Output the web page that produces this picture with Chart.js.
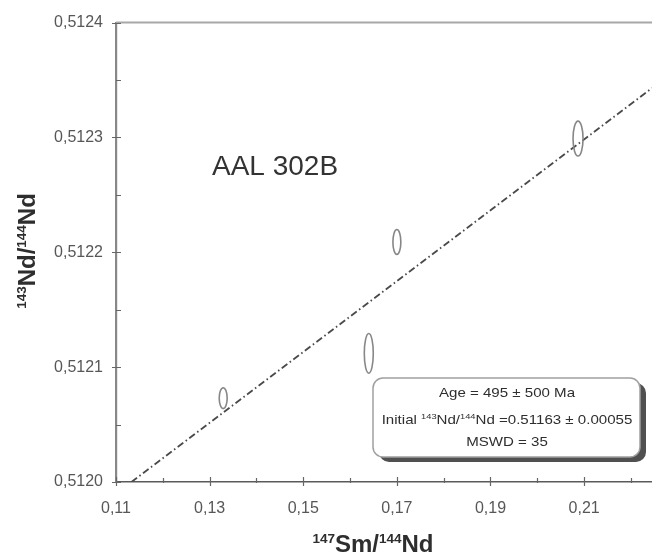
<!DOCTYPE html>
<html>
<head>
<meta charset="utf-8">
<script src="https://cdn.jsdelivr.net/npm/chart.js@4.4.1/dist/chart.umd.min.js"></script>
<style>
  html, body { margin: 0; padding: 0; background: #ffffff; }
  canvas { display: block; }
</style>
</head>
<body>
<canvas id="isochron" width="652" height="554"></canvas>
<script>
// Sm–Nd whole-rock isochron, sample AAL 302B

// Analysed points: 147Sm/144Nd, 143Nd/144Nd and their 2σ half-widths
const sampleX    = [0.1329, 0.1640, 0.1700, 0.2087];
const sampleY    = [0.512073, 0.512112, 0.512209, 0.512299];
const sampleXErr = [0.00085, 0.00096, 0.00085, 0.00107];
const sampleYErr = [0.0000091, 0.0000173, 0.0000108, 0.0000152];

// Regression line end points
const isochronX = [0.1133, 0.2245];
const isochronY = [0.51200, 0.512343];

// Axis ticks (all marks) and the labelled ones
const xTicks = [0.11, 0.12, 0.13, 0.14, 0.15, 0.16, 0.17, 0.18, 0.19, 0.20, 0.21, 0.22];
const xLabelled = [0.11, 0.13, 0.15, 0.17, 0.19, 0.21];
const yTicks = [0.51200, 0.51205, 0.51210, 0.51215, 0.51220, 0.51225, 0.51230, 0.51235, 0.51240];
const yLabelled = [0.5120, 0.5121, 0.5122, 0.5123, 0.5124];

const xRange = [0.11, 0.2245];
const yRange = [0.5120, 0.5124];

const sampleName = 'AAL 302B';
const resultLines = [
  [{ t: 'Age = 495 ± 500 Ma' }],
  [{ t: 'Initial ' }, { t: '143', sup: true }, { t: 'Nd/' }, { t: '144', sup: true }, { t: 'Nd =0.51163 ± 0.00055' }],
  [{ t: 'MSWD = 35' }]
];

const FONT = '"Liberation Sans", Arial, sans-serif';

function isLabelled(list, v) {
  return list.some(m => Math.abs(m - v) < 1e-9);
}

// draw a run of text pieces (some as superscripts), centred on cx
function drawRich(ctx, parts, cx, baseline, size, supSize, supRise, weight, sx) {
  let total = 0;
  const widths = parts.map(p => {
    ctx.font = `${weight} ${p.sup ? supSize : size}px ${FONT}`;
    const w = ctx.measureText(p.t).width;
    total += w;
    return w;
  });
  ctx.save();
  ctx.translate(cx - total * sx / 2, baseline);
  ctx.scale(sx, 1);
  let x = 0;
  parts.forEach((p, i) => {
    ctx.font = `${weight} ${p.sup ? supSize : size}px ${FONT}`;
    ctx.fillText(p.t, x, p.sup ? -supRise : 0);
    x += widths[i];
  });
  ctx.restore();
}

function roundRect(ctx, x, y, w, h, r) {
  ctx.beginPath();
  ctx.moveTo(x + r, y);
  ctx.lineTo(x + w - r, y);
  ctx.arcTo(x + w, y, x + w, y + r, r);
  ctx.lineTo(x + w, y + h - r);
  ctx.arcTo(x + w, y + h, x + w - r, y + h, r);
  ctx.lineTo(x + r, y + h);
  ctx.arcTo(x, y + h, x, y + h - r, r);
  ctx.lineTo(x, y + r);
  ctx.arcTo(x, y, x + r, y, r);
  ctx.closePath();
}

const decorPlugin = {
  id: 'isochronDecor',
  beforeDraw(chart) {
    const ctx = chart.ctx;
    ctx.save();
    ctx.fillStyle = '#ffffff';
    ctx.fillRect(0, 0, chart.width, chart.height);
    ctx.restore();
  },
  afterDatasetsDraw(chart) {
    const ctx = chart.ctx;
    const xs = chart.scales.x, ys = chart.scales.y;
    const area = chart.chartArea;

    // error ellipses around each analysis
    ctx.save();
    ctx.strokeStyle = '#878787';
    ctx.lineWidth = 1.6;
    sampleX.forEach((xv, i) => {
      const cx = xs.getPixelForValue(xv);
      const cy = ys.getPixelForValue(sampleY[i]);
      const rx = Math.abs(xs.getPixelForValue(xv + sampleXErr[i]) - cx);
      const ry = Math.abs(ys.getPixelForValue(sampleY[i] + sampleYErr[i]) - cy);
      ctx.beginPath();
      ctx.ellipse(cx, cy, rx, ry, 0, 0, Math.PI * 2);
      ctx.stroke();
    });
    ctx.restore();

    // top frame line
    ctx.save();
    ctx.strokeStyle = '#a8a8a8';
    ctx.lineWidth = 2;
    ctx.beginPath();
    ctx.moveTo(area.left, area.top);
    ctx.lineTo(chart.width, area.top);
    ctx.stroke();
    ctx.restore();

    // tick marks
    ctx.save();
    ctx.strokeStyle = '#666666';
    ctx.lineWidth = 1.2;
    ctx.beginPath();
    xs.ticks.forEach(t => {
      if (!isLabelled(xTicks, t.value)) return;
      const px = Math.round(xs.getPixelForValue(t.value)) + 0.5;
      if (isLabelled(xLabelled, t.value)) {
        ctx.moveTo(px, area.bottom - 5); ctx.lineTo(px, area.bottom + 4);
      } else {
        ctx.moveTo(px, area.bottom - 4); ctx.lineTo(px, area.bottom + 1);
      }
    });
    ys.ticks.forEach(t => {
      const py = Math.round(ys.getPixelForValue(t.value)) + 0.5;
      if (isLabelled(yLabelled, t.value)) {
        ctx.moveTo(area.left - 4, py); ctx.lineTo(area.left + 5, py);
      } else {
        ctx.moveTo(area.left, py); ctx.lineTo(area.left + 5, py);
      }
    });
    ctx.stroke();
    ctx.restore();

    // sample name
    ctx.save();
    ctx.fillStyle = '#333333';
    ctx.font = `28px ${FONT}`;
    ctx.textBaseline = 'alphabetic';
    ctx.fillText(sampleName, 212, 175);
    ctx.restore();

    // result box with shadow
    const bx = 373, by = 378, bw = 267, bh = 79;
    ctx.save();
    ctx.fillStyle = '#505050';
    roundRect(ctx, bx + 6, by + 5, bw, bh, 10);
    ctx.fill();
    ctx.fillStyle = '#ffffff';
    ctx.strokeStyle = '#a0a0a0';
    ctx.lineWidth = 1.5;
    roundRect(ctx, bx, by, bw, bh, 10);
    ctx.fill();
    ctx.stroke();
    ctx.fillStyle = '#2e2e2e';
    ctx.textBaseline = 'alphabetic';
    const baselines = [397, 424, 446];
    resultLines.forEach((parts, i) => {
      drawRich(ctx, parts, 507, baselines[i], 13, 8, 5, 'normal', 1.16);
    });
    ctx.restore();

    // axis titles
    ctx.save();
    ctx.fillStyle = '#2e2e2e';
    ctx.textBaseline = 'alphabetic';
    drawRich(ctx, [{ t: '147', sup: true }, { t: 'Sm/' }, { t: '144', sup: true }, { t: 'Nd' }],
      373, 552, 24, 13.5, 9, 'bold', 1);
    ctx.translate(35, 251);
    ctx.rotate(-Math.PI / 2);
    drawRich(ctx, [{ t: '143', sup: true }, { t: 'Nd/' }, { t: '144', sup: true }, { t: 'Nd' }],
      0, 0, 24, 13.5, 9, 'bold', 1);
    ctx.restore();
  }
};

new Chart(document.getElementById('isochron'), {
  type: 'scatter',
  data: {
    datasets: [
      {
        label: 'Isochron',
        data: isochronX.map((x, i) => ({ x, y: isochronY[i] })),
        showLine: true,
        borderColor: '#4a4a4a',
        borderWidth: 1.8,
        borderDash: [7, 3, 1.5, 3],
        pointRadius: 0,
        fill: false
      },
      {
        label: 'Samples',
        data: sampleX.map((x, i) => ({ x, y: sampleY[i] })),
        pointRadius: 0,
        pointHoverRadius: 0
      }
    ]
  },
  options: {
    responsive: false,
    animation: false,
    events: [],
    layout: { padding: { top: 20, right: 0, bottom: 0, left: 0 } },
    plugins: { legend: { display: false }, tooltip: { enabled: false } },
    scales: {
      x: {
        type: 'linear',
        min: xRange[0],
        max: xRange[1],
        afterBuildTicks: s => { s.ticks = xTicks.map(v => ({ value: v })); },
        afterFit: s => { s.height = 72; },
        grid: { display: false, drawTicks: false },
        border: { display: true, color: '#5a5a5a', width: 1.6 },
        ticks: {
          autoSkip: false,
          maxRotation: 0,
          padding: 17,
          color: '#575757',
          font: { family: FONT, size: 16 },
          callback: v => isLabelled(xLabelled, v) ? v.toFixed(2).replace('.', ',') : ''
        }
      },
      y: {
        type: 'linear',
        min: yRange[0],
        max: yRange[1],
        afterBuildTicks: s => { s.ticks = yTicks.map(v => ({ value: v })); },
        afterFit: s => { s.width = 116; },
        grid: { display: false, drawTicks: false },
        border: { display: true, color: '#888888', width: 2.2 },
        ticks: {
          autoSkip: false,
          padding: 13,
          color: '#575757',
          font: { family: FONT, size: 16 },
          callback: v => isLabelled(yLabelled, v) ? v.toFixed(4).replace('.', ',') : ''
        }
      }
    }
  },
  plugins: [decorPlugin]
});
</script>
</body>
</html>
